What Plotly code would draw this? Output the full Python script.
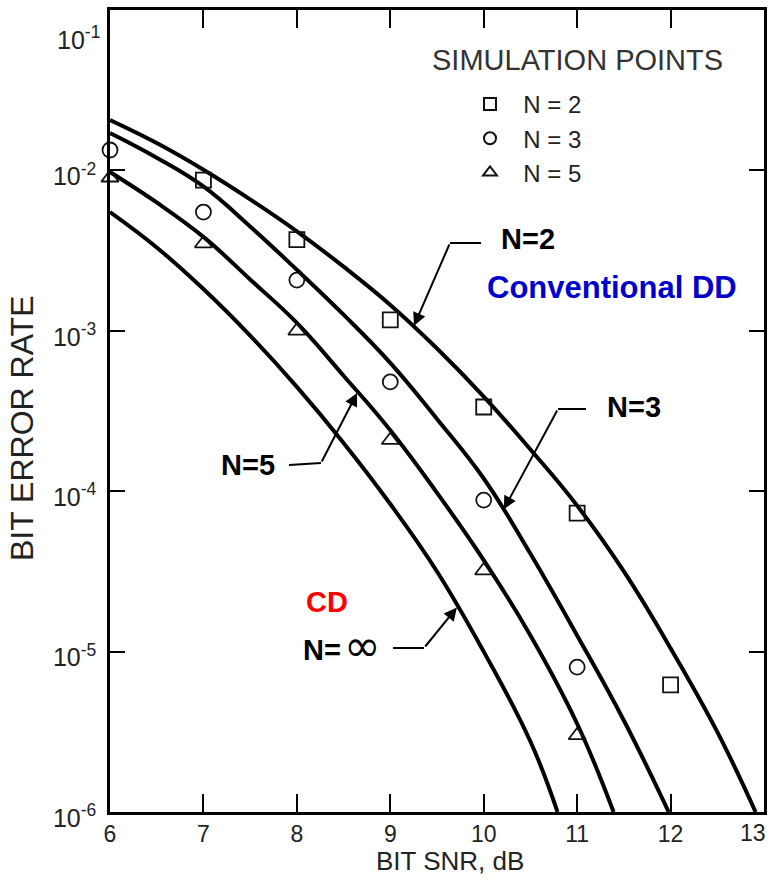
import numpy as np
import plotly.graph_objects as go

# ---------------- data ----------------
snr_n2 = [6.0, 6.5, 7.0, 7.5, 8.0, 8.5, 9.0, 9.5, 10.0, 10.5, 11.0, 11.5, 12.0, 12.5, 12.91]
ber_n2 = [2.06e-2, 1.48e-2, 1.01e-2, 6.6e-3, 4.17e-3, 2.51e-3, 1.45e-3, 7.76e-4, 3.89e-4,
          1.82e-4, 8.13e-5, 3.16e-5, 1.05e-5, 3.16e-6, 1.0e-6]

snr_n3 = [6.0, 6.5, 7.0, 7.5, 8.0, 8.5, 9.0, 9.5, 10.0, 10.5, 11.0, 11.5, 11.98]
ber_n3 = [1.71e-2, 1.20e-2, 7.94e-3, 4.47e-3, 2.40e-3, 1.26e-3, 6.31e-4, 2.82e-4, 1.20e-4,
          4.07e-5, 1.26e-5, 3.72e-6, 1.0e-6]

snr_n5 = [6.0, 6.5, 7.0, 7.5, 8.0, 8.5, 9.0, 9.5, 10.0, 10.5, 11.0, 11.39]
ber_n5 = [9.77e-3, 6.31e-3, 3.85e-3, 2.09e-3, 1.12e-3, 5.25e-4, 2.40e-4, 9.77e-5, 3.72e-5,
          1.26e-5, 3.55e-6, 1.0e-6]

snr_inf = [6.0, 6.5, 7.0, 7.5, 8.0, 8.5, 9.0, 9.5, 10.0, 10.5, 10.79]
ber_inf = [5.5e-3, 3.31e-3, 1.82e-3, 9.33e-4, 4.47e-4, 2.0e-4, 8.32e-5, 3.16e-5, 1.0e-5,
           2.75e-6, 1.0e-6]

sim_snr_n2 = [7, 8, 9, 10, 11, 12]
sim_ber_n2 = [8.7e-3, 3.7e-3, 1.17e-3, 3.35e-4, 7.3e-5, 6.2e-6]
sim_snr_n3 = [6, 7, 8, 9, 10, 11]
sim_ber_n3 = [1.34e-2, 5.5e-3, 2.07e-3, 4.8e-4, 8.8e-5, 8.0e-6]
sim_snr_n5 = [6, 7, 8, 9, 10, 11]
sim_ber_n5 = [9.0e-3, 3.5e-3, 1.0e-3, 2.08e-4, 3.2e-5, 3.0e-6]

x_ticks = [6, 7, 8, 9, 10, 11, 12, 13]
x_ticktext = ["6", "7", "8", "9", "10", "11", "12", ""]
x_last_label = "13"
y_ticks = [1e-6, 1e-5, 1e-4, 1e-3, 1e-2, 1e-1]
y_ticktext = ["10<sup>-6</sup>", "10<sup>-5</sup>", "10<sup>-4</sup>",
              "10<sup>-3</sup>", "10<sup>-2</sup>", ""]
y_top_label = "10<sup>-1</sup>"
x_title = "BIT SNR, dB"
y_title = "BIT ERROR RATE"
legend_title = "SIMULATION POINTS"

# ---------------- layout geometry ----------------
FW, FH = 769, 885
L, R, T, B = 110, 5, 10, 73
W, H = FW - L - R, FH - T - B
XMIN, XMAX = 6, 13
YMIN, YMAX = -6, -1
FONT = "Liberation Sans, Arial, sans-serif"


def pxx(x):
    return L + (x - XMIN) / (XMAX - XMIN) * W


def pxy(ly):
    return T + (YMAX - ly) / (YMAX - YMIN) * H


def paper_x(px):
    return (px - L) / W


def paper_y(py):
    return 1 - (py - T) / H


fig = go.Figure()

for sx, sy in [(snr_n2, ber_n2), (snr_n3, ber_n3), (snr_n5, ber_n5), (snr_inf, ber_inf)]:
    fig.add_trace(go.Scatter(x=sx, y=sy, mode="lines",
                             line=dict(color="black", width=4, shape="spline", smoothing=1.2),
                             showlegend=False, hoverinfo="skip"))

fig.add_trace(go.Scatter(x=sim_snr_n2, y=sim_ber_n2, mode="markers",
                         name="\u00a0\u00a0N = 2",
                         marker=dict(symbol="square-open", size=15, color="#111",
                                     line=dict(width=1.8, color="#111")),
                         cliponaxis=False))
fig.add_trace(go.Scatter(x=sim_snr_n3, y=sim_ber_n3, mode="markers",
                         name="\u00a0\u00a0N = 3",
                         marker=dict(symbol="circle-open", size=15, color="#111",
                                     line=dict(width=1.8, color="#111")),
                         cliponaxis=False))
fig.add_trace(go.Scatter(x=sim_snr_n5, y=sim_ber_n5, mode="markers",
                         name="\u00a0\u00a0N = 5",
                         marker=dict(symbol="triangle-up-open", size=15, color="#111",
                                     line=dict(width=1.8, color="#111")),
                         cliponaxis=False))

annotations = []
shapes = []


def text_ann(px, py, text, size, color="black", bold=True, family=FONT, angle=0):
    annotations.append(dict(
        x=paper_x(px), y=paper_y(py), xref="paper", yref="paper",
        text=("<b>%s</b>" % text) if bold else text, showarrow=False,
        font=dict(size=size, color=color, family=family), textangle=angle,
        xanchor="center", yanchor="middle"))


def leader(curve_x, curve_y, tip_snr, bend, end):
    ly = float(np.interp(tip_snr, curve_x, np.log10(curve_y)))
    tx, ty = pxx(tip_snr), pxy(ly)
    annotations.append(dict(
        x=tip_snr, y=ly, xref="x", yref="y", text="", showarrow=True,
        ax=bend[0] - tx, ay=bend[1] - ty, axref="pixel", ayref="pixel",
        arrowhead=2, arrowsize=1.3, arrowwidth=2, arrowcolor="black", standoff=1))
    shapes.append(dict(type="line", xref="paper", yref="paper",
                       x0=paper_x(bend[0]), y0=paper_y(bend[1]),
                       x1=paper_x(end[0]), y1=paper_y(end[1]),
                       line=dict(color="black", width=2)))


leader(snr_n2, ber_n2, 9.25, (450, 243), (481, 243))
leader(snr_n3, ber_n3, 10.21, (558, 409), (586, 409))
leader(snr_n5, ber_n5, 8.65, (321, 463), (289, 465))
leader(snr_inf, ber_inf, 9.72, (424, 648), (393, 648))

text_ann(528, 239, "N=2", 29)
text_ann(612, 287, "Conventional DD", 31, color="#0000CC")
text_ann(634, 407, "N=3", 29)
text_ann(248, 465, "N=5", 29)
text_ann(327, 602, "CD", 29, color="#FF0000")
text_ann(322, 650, "N=", 29)
text_ann(362, 645, "∞", 44, bold=False, family="DejaVu Sans, sans-serif")

# legend heading and axis titles
text_ann(577, 60, legend_title, 29, color="#333", bold=False)
text_ann(450, 861, x_title, 26, color="#222", bold=False)
text_ann(22, 428, y_title, 32, color="#222", bold=False, angle=-90)

# last x tick label and top y tick label, kept inside the figure like the reference
annotations.append(dict(x=x_ticks[-1], y=0, xref="x", yref="paper", text=x_last_label,
                        showarrow=False, xanchor="right", yanchor="top", xshift=4, yshift=-6,
                        font=dict(size=23, color="#222", family=FONT)))
annotations.append(dict(x=0, y=np.log10(y_ticks[-1]), xref="paper", yref="y", text=y_top_label,
                        showarrow=False, xanchor="right", yanchor="middle", xshift=-8,
                        yshift=-28, font=dict(size=25, color="#222", family=FONT)))

axis_common = dict(showline=True, linewidth=2.5, linecolor="black", mirror="ticks",
                   ticks="inside", tickwidth=2, tickcolor="black", showgrid=False,
                   zeroline=False, automargin=False)

fig.update_layout(
    width=FW, height=FH,
    margin=dict(l=L, r=R, t=T, b=B),
    paper_bgcolor="white", plot_bgcolor="white",
    font=dict(family=FONT, color="#222"),
    xaxis=dict(range=[XMIN, XMAX], tickvals=x_ticks, ticktext=x_ticktext, ticklen=18,
               tickfont=dict(size=23, color="#222", family=FONT),
               **axis_common),
    yaxis=dict(type="log", range=[YMIN, YMAX], tickvals=y_ticks, ticktext=y_ticktext,
               ticklen=15, ticklabelshift=6, ticklabelstandoff=6,
               ticklabeloverflow="allow",
               tickfont=dict(size=25, color="#222", family=FONT),
               **axis_common),
    legend=dict(x=paper_x(430), y=paper_y(82), xanchor="left", yanchor="top",
                bgcolor="rgba(0,0,0,0)",
                font=dict(size=24, color="#222", family=FONT),
                indentation=40, itemsizing="constant"),
    annotations=annotations,
    shapes=shapes,
)

fig.write_html("out.html",
               config={"displayModeBar": False},
               post_script="document.body.style.margin='0';"
                           "document.body.style.overflow='hidden';")
